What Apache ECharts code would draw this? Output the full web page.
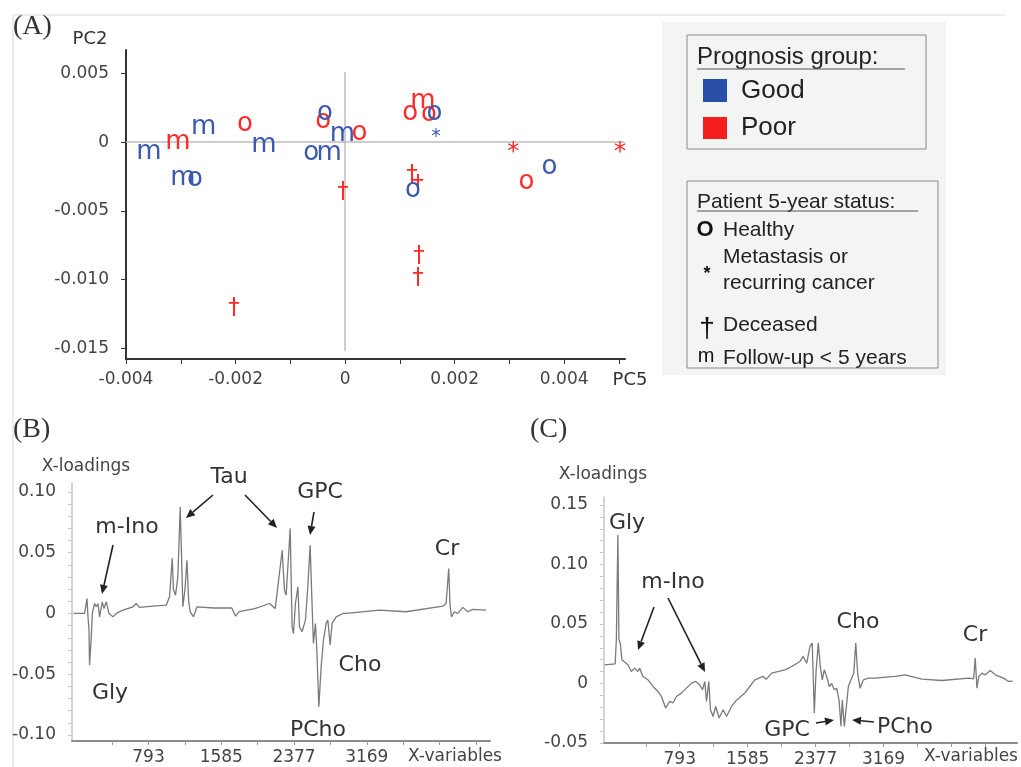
<!DOCTYPE html>
<html><head><meta charset="utf-8">
<script src="https://cdn.jsdelivr.net/npm/echarts@6.0.0/dist/echarts.min.js"></script>
<style>html,body{margin:0;padding:0;background:#fff;}#c{width:1021px;height:767px;}</style>
</head><body><div id="c"></div>
<script>
// ---------- Panel A: PCA scores (PC5, PC2) ----------
const goodHealthy   = [[-0.00274,-0.00262],[-0.00062,-0.00073],[-0.00037,0.00218],[0.00163,0.00218],[0.00124,-0.00342],[0.00373,-0.00174]];
const goodFollowUp  = [[-0.00358,-0.00065],[-0.00258,0.00116],[-0.00296,-0.00254],[-0.00148,-0.00015],[-0.00029,-0.00073],[-0.00005,0.00065]];
const goodMetast    = [[0.00166,0.00073]];
const poorHealthy   = [[-0.00183,0.00138],[-0.0004,0.0016],[0.00026,0.00073],[0.00119,0.00218],[0.00153,0.00211],[0.00331,-0.00284]];
const poorFollowUp  = [[-0.00305,0.00007],[0.00142,0.00305]];
const poorMetast    = [[0.00307,-0.00022],[0.00502,-0.00022]];
const poorDeceased  = [[-0.00004,-0.00364],[0.00122,-0.0024],[0.00133,-0.00313],[0.00135,-0.00829],[0.00133,-0.00989],[-0.00203,-0.01207]];
const aXTicks  = [-0.004,-0.003,-0.002,-0.001,0,0.001,0.002,0.003,0.004,0.005];
const aXLabels = [-0.004,-0.002,0,0.002,0.004];
const aYTicks  = [0.005,0,-0.005,-0.01,-0.015];

// ---------- Panel B: X-loadings ----------
const bX = [-25,97,123,134,145,151,170,181,206,224,243,260,289,308,333,362,406,442,515,623,659,695,841,986,1022,1051,1064,1087,1112,1138,1167,1190,1211,1230,1247,1283,1320,1500,1700,1740,1780,1950,2110,2172,2248,2273,2291,2335,2356,2371,2392,2419,2436,2465,2501,2527,2552,2574,2588,2610,2625,2647,2672,2697,2726,2745,2770,2791,2835,2908,2944,3306,3597,3996,4032,4061,4075,4090,4122,4159,4214,4268,4322,4467];
const bY = [0,0,0.0123,-0.0028,-0.0137,-0.0425,-0.019,0,0.0082,0.0055,0.0082,-0.0028,0.0096,0.0041,0.0096,0,-0.0028,0,0.0027,0.0055,0.0082,0.005,0.006,0.0068,0.0137,0.0455,0.02,0.015,0.03,0.0877,0.0055,0.02,0.0438,0.01,0.0013,-0.0028,0.0055,0.0045,0.0045,-0.0022,0.0015,0.004,0.0082,0.004,0.052,0.019,0.015,0.070,-0.011,-0.0165,0.0082,0.022,-0.011,-0.015,-0.0055,0.022,0.0562,0.0055,-0.0247,-0.0082,-0.030,-0.0768,-0.044,-0.022,-0.0082,-0.0055,-0.026,-0.0082,-0.0028,0,0,0.0027,0.0014,0.006,0.0082,0.037,0.0068,-0.0028,0.0014,0,0.005,0.0014,0.0033,0.0027];

// ---------- Panel C: X-loadings ----------
const cX = [-83,40,54,72,84,100,119,150,189,229,267,306,326,364,423,481,539,579,629,676,715,754,813,871,930,980,1026,1058,1085,1105,1132,1151,1182,1213,1252,1299,1338,1397,1455,1552,1669,1766,1800,1864,2019,2098,2194,2233,2273,2311,2338,2362,2381,2408,2432,2455,2478,2506,2537,2565,2595,2623,2650,2673,2688,2712,2732,2759,2790,2822,2845,2868,2895,2934,2992,3071,3303,3420,3616,3850,4160,4219,4238,4258,4280,4317,4355,4414,4472,4569,4627,4674];
const cY = [0.0157,0.0165,0.0367,0.1247,0.0367,0.0339,0.0199,0.018,0.0157,0.0101,0.0129,0.0101,0.0129,0.0059,0.0031,-0.0025,-0.0067,-0.0109,-0.0206,-0.0151,-0.0164,-0.0109,-0.0081,-0.0039,0.0003,0.0017,-0.0011,-0.0053,0.0017,-0.0151,0.0017,-0.0221,-0.0277,-0.0193,-0.029,-0.0221,-0.0277,-0.0193,-0.014,-0.008,0.0031,0.0059,0.0035,0.0087,0.0115,0.0143,0.0185,0.0227,0.017,0.031,0.0339,-0.0248,0.0087,0.0339,0.0143,0.0031,0.0115,0.006,-0.0025,0.0,-0.0053,-0.004,-0.0137,-0.036,-0.014,-0.036,-0.022,-0.0025,0.0031,0.0087,0.0339,0.008,-0.0039,0.0031,0.0045,0.0045,0.0059,0.0073,0.0036,0.0025,0.0045,0.004,0.0213,-0.0039,0.0059,0.0087,0.0073,0.0109,0.0073,0.0045,0.0017,0.002];

const xVarLabels = [793,1585,2377,3169];
const xVarTicks  = [397,793,1189,1585,1981,2377,2773,3169,3565,3961,4357];
const bYLabels = [0.1,0.05,0,-0.05,-0.1];
const cYLabels = [0.15,0.1,0.05,0,-0.05];
const bYMinor = []; for (let k=-10;k<=10;k++) bYMinor.push(k/100);
const cYMinor = []; for (let k=-5;k<=15;k++) cYMinor.push(k/100);

const BLUE = '#3b59ad', RED = '#ff2a2a';
const SANS = '"DejaVu Sans"';

function glyphSeries(data, glyph, color, size, dy) {
  return {
    type: 'custom', xAxisIndex: 0, yAxisIndex: 0, data: data, silent: true, z: 5, clip: false,
    renderItem: function (params, api) {
      const p = api.coord([api.value(0), api.value(1)]);
      return { type: 'text', x: p[0], y: p[1] + dy,
        style: { text: glyph, fill: color, font: size + 'px ' + SANS,
                 align: 'center', verticalAlign: 'middle', textAlign: 'center', textVerticalAlign: 'middle' } };
    }
  };
}
function fmtA(v){ return Math.abs(v) < 1e-12 ? '0' : v.toFixed(3); }
function fmtBC(v){ return Math.abs(v) < 1e-12 ? '0' : v.toFixed(2); }

function txt(s, x, y, size, o) {
  o = o || {};
  return { type: 'text', x: x, y: y, z: 20,
    style: { text: s, font: (o.weight ? o.weight + ' ' : '') + size + 'px ' + (o.family || SANS), fill: o.fill || '#333',
      align: o.align || 'center', verticalAlign: 'middle', textAlign: o.align || 'center', textVerticalAlign: 'middle' } };
}
function arrow(x1, y1, x2, y2) {
  const a = Math.atan2(y2 - y1, x2 - x1), L = 9, W = 4;
  const bx = x2 - L * Math.cos(a), by = y2 - L * Math.sin(a);
  return [
    { type: 'line', z: 20, shape: { x1: x1, y1: y1, x2: bx, y2: by }, style: { stroke: '#222', lineWidth: 1.6 } },
    { type: 'polygon', z: 20, shape: { points: [[x2, y2], [bx + W * Math.sin(a), by - W * Math.cos(a)], [bx - W * Math.sin(a), by + W * Math.cos(a)]] }, style: { fill: '#222' } }
  ];
}
const LEG = '"Liberation Sans"';
const graphics = [
  { type: 'line', shape: { x1: 13, y1: 15, x2: 1005, y2: 15 }, style: { stroke: '#d8d8d8', lineWidth: 1 } },
  { type: 'line', shape: { x1: 13, y1: 15, x2: 13, y2: 767 }, style: { stroke: '#d8d8d8', lineWidth: 1 } },
  { type: 'rect', z: 1, shape: { x: 662, y: 22, width: 284, height: 353 }, style: { fill: '#f3f4f4' } },
  { type: 'rect', z: 2, shape: { x: 687, y: 35, width: 239, height: 114 }, style: { fill: 'none', stroke: '#8a8a8a', lineWidth: 1 } },
  { type: 'rect', z: 2, shape: { x: 687, y: 181, width: 251, height: 187 }, style: { fill: 'none', stroke: '#8a8a8a', lineWidth: 1 } },
  txt('Prognosis group:', 697, 57, 24, { align: 'left', family: LEG, fill: '#222' }),
  { type: 'line', z: 20, shape: { x1: 697, y1: 69, x2: 905, y2: 69 }, style: { stroke: '#555', lineWidth: 1.2 } },
  { type: 'rect', z: 20, shape: { x: 703, y: 79, width: 24, height: 23 }, style: { fill: '#2a4fa8' } },
  txt('Good', 741, 91, 26, { align: 'left', family: LEG, fill: '#222' }),
  { type: 'rect', z: 20, shape: { x: 703, y: 117, width: 24, height: 22 }, style: { fill: '#f51d1d' } },
  txt('Poor', 741, 128, 26, { align: 'left', family: LEG, fill: '#222' }),
  txt('Patient 5-year status:', 697, 202, 21, { align: 'left', family: LEG, fill: '#222' }),
  { type: 'line', z: 20, shape: { x1: 697, y1: 211, x2: 918, y2: 211 }, style: { stroke: '#555', lineWidth: 1.2 } },
  txt('O', 705, 230, 22, { family: LEG, fill: '#111', weight: 'bold' }),
  txt('Healthy', 723, 230, 21, { align: 'left', family: LEG, fill: '#222' }),
  txt('*', 707, 274, 18, { family: LEG, fill: '#111', weight: 'bold' }),
  txt('Metastasis or', 723, 257, 21, { align: 'left', family: LEG, fill: '#222' }),
  txt('recurring cancer', 723, 283, 21, { align: 'left', family: LEG, fill: '#222' }),
  txt('\u2020', 707, 329, 28, { family: LEG, fill: '#111' }),
  txt('Deceased', 723, 325, 21, { align: 'left', family: LEG, fill: '#222' }),
  txt('m', 706, 356, 20, { family: LEG, fill: '#111' }),
  txt('Follow-up < 5 years', 723, 358, 21, { align: 'left', family: LEG, fill: '#222' }),
  // panel A
  txt('(A)', 13, 27, 28, { align: 'left', family: '"Liberation Serif"', fill: '#333' }),
  txt('PC2', 90, 39, 18, {}),
  txt('PC5', 630, 380, 18, {}),
  // panel B
  txt('(B)', 13, 430, 28, { align: 'left', family: '"Liberation Serif"', fill: '#333' }),
  txt('X-loadings', 86, 467, 17, { fill: '#444' }),
  txt('X-variables', 455, 757, 17, { fill: '#444' }),
  txt('Tau', 229, 477, 22), txt('GPC', 320, 492, 22), txt('m-Ino', 127, 527, 22),
  txt('Cr', 447, 549, 22), txt('Gly', 110, 693, 22), txt('Cho', 360, 665, 22), txt('PCho', 318, 730, 22),
  ...arrow(213, 495, 186, 518), ...arrow(245, 495, 277, 528), ...arrow(314, 512, 310, 535), ...arrow(113, 545, 102, 594),
  // panel C
  txt('(C)', 530, 430, 28, { align: 'left', family: '"Liberation Serif"', fill: '#333' }),
  txt('X-loadings', 603, 475, 17, { fill: '#444' }),
  txt('X-variables', 971, 757, 17, { fill: '#444' }),
  txt('Gly', 627, 523, 22), txt('m-Ino', 673, 582, 22), txt('Cho', 858, 622, 22), txt('Cr', 975, 635, 22),
  txt('GPC', 787, 730, 22), txt('PCho', 905, 727, 22),
  ...arrow(654, 607, 638, 650), ...arrow(668, 598, 705, 672), ...arrow(816, 723, 834, 720), ...arrow(874, 722, 852, 720)
];

const tickFont = { fontFamily: 'DejaVu Sans', fontSize: 17, color: '#444' };
function xVarAxis(grid, min, max) {
  return { type: 'value', gridIndex: grid, min: min, max: max,
    axisLine: { show: true, onZero: false, lineStyle: { color: '#8c8c8c', width: 2 } },
    axisTick: { show: true, customValues: xVarTicks, length: 4, lineStyle: { color: '#9a9a9a' } },
    axisLabel: Object.assign({ customValues: xVarLabels, margin: 8, formatter: v => String(v) }, tickFont),
    splitLine: { show: false } };
}
function loadAxis(grid, min, max, labels, minor) {
  return { type: 'value', gridIndex: grid, min: min, max: max,
    axisLine: { show: true, onZero: false, lineStyle: { color: '#c4c4c4', width: 1.5 } },
    axisTick: { show: true, customValues: minor, length: 4, lineStyle: { color: '#c4c4c4' } },
    axisLabel: Object.assign({ customValues: labels, margin: 16, formatter: fmtBC }, tickFont),
    splitLine: { show: false } };
}

const option = {
  animation: false,
  backgroundColor: '#ffffff',
  grid: [
    { left: 126, top: 50, width: 499, height: 309, outerBoundsMode: 'none' },
    { left: 72, top: 483, width: 418, height: 258, outerBoundsMode: 'none' },
    { left: 604, top: 497, width: 413, height: 246, outerBoundsMode: 'none' }
  ],
  xAxis: [
    { type: 'value', gridIndex: 0, min: -0.004, max: 0.00511,
      axisLine: { show: true, onZero: false, lineStyle: { color: '#333', width: 2 } },
      axisTick: { show: true, customValues: aXTicks, length: 5, lineStyle: { color: '#333' } },
      axisLabel: Object.assign({ customValues: aXLabels, margin: 12, formatter: fmtA }, tickFont),
      splitLine: { show: false } },
    xVarAxis(1, -40, 4510),
    xVarAxis(2, -90, 4725)
  ],
  yAxis: [
    { type: 'value', gridIndex: 0, min: -0.01578, max: 0.0067,
      axisLine: { show: true, onZero: false, lineStyle: { color: '#333', width: 2 } },
      axisTick: { show: true, customValues: aYTicks, length: 5, lineStyle: { color: '#333' } },
      axisLabel: Object.assign({ customValues: aYTicks, margin: 17, formatter: fmtA }, tickFont),
      splitLine: { show: false } },
    loadAxis(1, -0.105, 0.1074, bYLabels, bYMinor),
    loadAxis(2, -0.05, 0.1567, cYLabels, cYMinor)
  ],
  graphic: { elements: graphics },
  series: [
    { type: 'line', xAxisIndex: 0, yAxisIndex: 0, data: [], silent: true,
      markLine: { silent: true, symbol: 'none', label: { show: false },
        lineStyle: { color: '#bdbdbd', width: 1.5, type: 'solid' },
        data: [
          [{ coord: [0, 0.0051] }, { coord: [0, -0.0152] }],
          [{ coord: [-0.004, 0] }, { coord: [0.0051, 0] }]
        ] } },
    glyphSeries(poorHealthy, 'o', RED, 26, 1),
    glyphSeries(poorFollowUp, 'm', RED, 26, 1),
    glyphSeries(poorMetast, '*', RED, 25, 7),
    glyphSeries(poorDeceased, '\u2020', RED, 23, 0),
    glyphSeries(goodFollowUp, 'm', BLUE, 26, 1),
    glyphSeries(goodHealthy, 'o', BLUE, 26, 1),
    glyphSeries(goodMetast, '*', BLUE, 19, 5),
    { type: 'line', xAxisIndex: 1, yAxisIndex: 1, data: bX.map((x, i) => [x, bY[i]]),
      symbol: 'none', silent: true, lineStyle: { color: '#7a7a7a', width: 1.3 } },
    { type: 'line', xAxisIndex: 2, yAxisIndex: 2, data: cX.map((x, i) => [x, cY[i]]),
      symbol: 'none', silent: true, lineStyle: { color: '#7a7a7a', width: 1.3 } }
  ]
};
const chart = echarts.init(document.getElementById('c'), null, { renderer: 'canvas' });
chart.setOption(option);
</script>
</body></html>
